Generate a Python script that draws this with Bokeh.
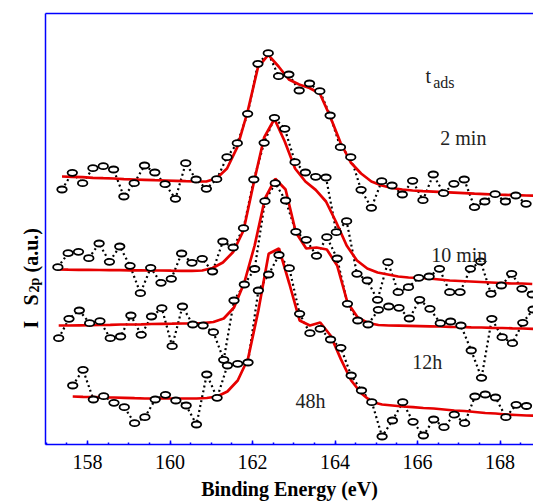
import math
from bokeh.plotting import figure
from bokeh.layouts import row
from bokeh.models import Range1d, LinearAxis, Label, SingleIntervalTicker, FixedTicker
from bokeh.embed import file_html
from bokeh.resources import INLINE

# ---- data (binding energy in eV, intensity in arbitrary units) ----
energy_2min = [157.38, 157.63, 157.88, 158.13, 158.38, 158.63, 158.88, 159.13, 159.38, 159.63,
               159.88, 160.13, 160.38, 160.63, 160.88, 161.13, 161.38, 161.63, 161.88, 162.13,
               162.38, 162.63, 162.88, 163.13, 163.38, 163.63, 163.88, 164.13, 164.38, 164.63,
               164.88, 165.13, 165.38, 165.63, 165.88, 166.13, 166.38, 166.63, 166.88, 167.13,
               167.38, 167.63, 167.88, 168.13, 168.38, 168.63]
data_2min = [255, 271.7, 261.3, 276.3, 278.3, 275, 248, 261.3, 279, 272,
             260.3, 245.7, 281.3, 265, 255.7, 265.3, 287.3, 301.3, 330.7, 380.7,
             391.3, 368.3, 370, 354, 361, 353.3, 329, 297.3, 287.3, 254.7,
             236.7, 263.3, 259, 250, 263.7, 244.3, 270, 251.3, 260.7, 265,
             237.3, 243, 250.3, 243, 249, 240.7]
fit_energy_2min = energy_2min + [168.88]
fit_2min = [268, 267.7, 267.3, 266.7, 266.3, 266, 265.3, 265, 264.7, 264.3,
            264, 263.7, 263.3, 263, 263, 266.3, 276, 297.3, 333, 377,
            389.7, 378, 365, 360, 356.5, 351, 328, 302, 282, 271,
            263, 259, 256.5, 255, 254, 253.3, 252.8, 252.3, 251.8, 251.3,
            250.8, 250.4, 250, 249.7, 249.3, 249, 248.7]

energy_10min = [157.28, 157.53, 157.78, 158.03, 158.28, 158.53, 158.78, 159.03, 159.28, 159.53,
                159.78, 160.03, 160.28, 160.53, 160.78, 161.03, 161.28, 161.53, 161.78, 162.03,
                162.28, 162.53, 162.78, 163.03, 163.28, 163.53, 163.78, 164.03, 164.28, 164.53,
                164.78, 165.03, 165.28, 165.53, 165.78, 166.03, 166.28, 166.53, 166.78, 167.03,
                167.28, 167.53, 167.78, 168.03, 168.28, 168.53, 168.78]
data_10min = [177.3, 191.3, 192.7, 186.3, 201, 182.7, 198, 178.7, 151.3, 176.7,
              161.7, 165.7, 191, 181.7, 185.7, 173, 203, 197, 216.3, 265,
              301.7, 326.7, 315.7, 282.3, 272, 267.7, 267, 212.3, 223.3, 170.7,
              164, 144.7, 182.3, 152.3, 157.3, 166.7, 168, 175.7, 152.3, 152.3,
              175.7, 183, 150.7, 159, 170.7, 155.7, 150]
fit_energy_10min = energy_10min
fit_10min = [175, 174.8, 174.7, 174.6, 174.5, 174.4, 174.3, 174.2, 174.1, 174,
             174, 173.8, 173.7, 173.6, 174, 176.5, 182, 192.5, 214, 262,
             307, 325.5, 303, 276, 263, 254.6, 243, 222, 199, 184,
             176, 172, 170, 168, 167, 166.5, 166, 165, 164, 163.5,
             163, 162.5, 162, 161.5, 161, 161, 160.5]

energy_12h = [157.30, 157.55, 157.80, 158.05, 158.30, 158.55, 158.80, 159.05, 159.30, 159.55,
              159.80, 160.05, 160.30, 160.55, 160.80, 161.05, 161.30, 161.55, 161.80, 162.05,
              162.30, 162.55, 162.80, 163.05, 163.30, 163.55, 163.80, 164.05, 164.30, 164.55,
              164.80, 165.05, 165.30, 165.55, 165.80, 166.05, 166.30, 166.55, 166.80, 167.05,
              167.30, 167.55, 167.80, 168.05, 168.30, 168.55, 168.80]
data_12h = [106.3, 125.7, 134, 121.3, 123.3, 106.3, 108, 129, 109.7, 128,
            136.3, 98.3, 138, 120, 119, 112.3, 84.7, 144, 160, 175.5,
            243.3, 261.3, 244, 212.7, 204.7, 188.7, 207.3, 186, 140.7, 124,
            120, 134.7, 138, 136.7, 126, 144.7, 135.7, 121.3, 123, 119,
            94, 66.7, 125.7, 107.3, 101.3, 121.7, 135]
fit_energy_12h = energy_12h
fit_12h = [119, 119, 119.2, 119.3, 119.5, 119.7, 120, 120, 120.2, 120.5,
           120.7, 120.8, 121, 121, 121.3, 122.5, 126, 137, 162, 199,
           246, 265.7, 255, 212, 196, 197, 195, 179, 142, 127,
           121.5, 119.5, 119, 118.8, 118.6, 118.4, 118.2, 118, 117.7, 117.5,
           117.2, 117, 116.7, 116.5, 116.2, 116, 115.7]

energy_48h = [157.64, 157.89, 158.14, 158.39, 158.64, 158.89, 159.14, 159.39, 159.64, 159.89,
              160.14, 160.39, 160.64, 160.89, 161.14, 161.39, 161.64, 161.89, 162.14, 162.39,
              162.64, 162.89, 163.14, 163.39, 163.64, 163.89, 164.14, 164.39, 164.64, 164.89,
              165.14, 165.39, 165.64, 165.89, 166.14, 166.39, 166.64, 166.89, 167.14, 167.39,
              167.64, 167.89, 168.14, 168.39, 168.64]
data_48h = [59, 74.7, 45, 48.3, 41.7, 37.3, 21.3, 27.3, 45, 49.7,
            44, 39, 20, 70, 46.7, 79, 80.7, 82, 154, 170,
            189.5, 176.3, 130.7, 111.3, 115.7, 105, 96.7, 69, 54, 42.3,
            8, 24, 42.3, 22.7, 9, 25, 17.3, 29.8, 21.3, 48,
            50, 47, 27.3, 39.7, 38.5]
fit_energy_48h = energy_48h + [168.89]
fit_48h = [48, 47.7, 47.5, 47.2, 47, 46.7, 46.3, 46, 46, 46,
           46, 46, 46, 46.5, 48, 53, 64, 86, 134, 190.7,
           196, 161, 124, 119, 122, 109, 85.4, 64, 51, 42.5,
           40, 39, 38, 37.3, 36.5, 36, 35, 34, 33.5, 32.5,
           31.5, 31, 30, 29.5, 29, 28.7]

curves = [
    (energy_2min, data_2min, fit_energy_2min, fit_2min),
    (energy_10min, data_10min, fit_energy_10min, fit_10min),
    (energy_12h, data_12h, fit_energy_12h, fit_12h),
    (energy_48h, data_48h, fit_energy_48h, fit_48h),
]

BLUE = "#0000ff"
RED = "#e60000"
SERIF = "Liberation Serif"
STRIP_W = 44

# ---- main plot ----
p = figure(width=533 - STRIP_W, height=502, output_backend="svg", toolbar_location=None,
           x_range=Range1d(156.98, 168.81), y_range=Range1d(0, 431),
           min_border_left=45 - STRIP_W, min_border_right=0, min_border_top=13,
           min_border_bottom=58)
p.grid.visible = False
p.outline_line_color = None
p.background_fill_color = "white"
p.border_fill_color = "white"

xa = p.xaxis[0]
xa.ticker = SingleIntervalTicker(interval=2, num_minor_ticks=4)
xa.axis_line_color = BLUE
xa.axis_line_width = 1.5
xa.major_tick_line_color = BLUE
xa.minor_tick_line_color = BLUE
xa.major_tick_line_width = 1.5
xa.minor_tick_line_width = 1.5
xa.major_tick_in = 4
xa.major_tick_out = 0
xa.minor_tick_in = 2
xa.minor_tick_out = 0
xa.major_label_text_font = SERIF
xa.major_label_text_font_size = "20px"
xa.major_label_text_color = "black"
xa.major_label_standoff = 10
xa.axis_label = "Binding Energy (eV)"
xa.axis_label_text_font = SERIF
xa.axis_label_text_font_size = "20px"
xa.axis_label_text_font_style = "bold"
xa.axis_label_text_color = "black"
xa.axis_label_standoff = 6

ya = p.yaxis[0]
ya.ticker = FixedTicker(ticks=[])
ya.axis_line_color = BLUE
ya.axis_line_width = 1.5
ya.major_tick_line_color = None
ya.minor_tick_line_color = None
ya.major_tick_out = 0
ya.minor_tick_out = 0
ya.major_label_text_color = None
ya.major_label_text_font_size = "0px"
ya.major_label_standoff = 0

top = LinearAxis(ticker=FixedTicker(ticks=[]), axis_line_color=BLUE, axis_line_width=1.5,
                 major_tick_line_color=None, minor_tick_line_color=None,
                 major_tick_out=0, minor_tick_out=0, major_label_text_color=None,
                 major_label_text_font_size="0px", major_label_standoff=0)
p.add_layout(top, "above")

for e, d, fe, f in curves:
    p.line(e, d, line_color="black", line_width=2.2, line_dash="2 3")
    p.line(fe, f, line_color=RED, line_width=2.7)
    p.ellipse(e, d, width=9.5, height=6, width_units="screen", height_units="screen",
              fill_color="white", line_color="black", line_width=1.8)

def add_text(fig, x, y, text, size, color="#222222", style="normal", angle=0.0):
    fig.add_layout(Label(x=x, y=y, text=text, text_font=SERIF, text_font_size=size,
                         text_color=color, text_font_style=style, text_align="left",
                         text_baseline="alphabetic", angle=angle))

add_text(p, 166.19, 369, "t", "20px")
add_text(p, 166.38, 362, "ads", "16px")
add_text(p, 166.55, 306.7, "2 min", "20px")
add_text(p, 166.33, 190, "10 min", "20px")
add_text(p, 165.87, 82.3, "12h", "20px")
add_text(p, 163.04, 44, "48h", "20px")

# ---- strip to the left holding the vertical axis title (shares the y scale) ----
s = figure(width=STRIP_W, height=502, output_backend="svg", toolbar_location=None,
           x_range=Range1d(0, STRIP_W), y_range=p.y_range,
           x_axis_location=None, y_axis_location=None, min_border=0,
           min_border_top=13, min_border_bottom=58)
s.grid.visible = False
s.outline_line_color = None
s.background_fill_color = "white"
s.border_fill_color = "white"

V = math.pi / 2
add_text(s, 30, 116, "I", "20px", color="black", style="bold", angle=V)
add_text(s, 30, 139, "S", "20px", color="black", style="bold", angle=V)
add_text(s, 34, 152, "2p", "14px", color="black", style="bold", angle=V)
add_text(s, 30, 172, "(a.u.)", "20px", color="black", style="bold", angle=V)

layout = row(s, p, spacing=0)
open("out.html", "w").write(file_html(layout, INLINE))
